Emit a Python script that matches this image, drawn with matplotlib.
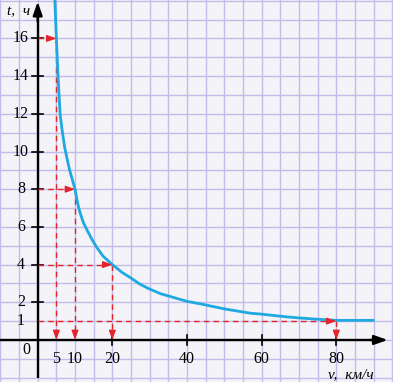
import numpy as np
import matplotlib
matplotlib.use("Agg")
import matplotlib.pyplot as plt

# ---- data ----
v_curve = [4.6, 5.0, 5.5, 6.0, 6.5, 7.2, 8.0, 8.55, 9.3, 10.0, 10.5, 11.0, 11.6, 12.3, 13.3,
           14.5, 15.7, 17.5, 20.0, 22.5, 24.9, 27.5, 30.0, 33.0, 36.5, 40.0, 44.0, 50.0,
           57.0, 60.0, 66.0, 70.0, 75.0, 80.0, 85.0, 90.0]
t_curve = [18.0, 16.0, 13.8, 12.0, 11.2, 10.25, 9.5, 9.02, 8.49, 8.0, 7.45, 7.0, 6.6, 6.2, 5.8,
           5.35, 4.95, 4.45, 4.0, 3.6, 3.3, 2.95, 2.7, 2.45, 2.25, 2.05, 1.9, 1.65,
           1.42, 1.37, 1.24, 1.17, 1.1, 1.04, 1.04, 1.04]

v_marked = [5, 10, 20, 80]
t_marked = [16, 8, 4, 1]

y_ticks = [2, 4, 6, 8, 10, 12, 14, 16]
y_labels = ["1", "2", "4", "6", "8", "10", "12", "14", "16"]
y_label_pos = [1, 2, 4, 6, 8, 10, 12, 14, 16]
x_ticks = [20, 40, 60, 80]
x_labels = ["5", "10", "20", "40", "60", "80"]
x_label_pos = [5, 10, 20, 40, 60, 80]

RED = "#e5232b"
BLUE = "#1ea9e1"
GRID = "#c0bdea"
PAPER = "#f4f3f7"

fig = plt.figure(figsize=(3.93, 3.82), dpi=100)
fig.patch.set_facecolor(PAPER)
ax = fig.add_axes([0, 0, 1, 1])
ax.set_facecolor(PAPER)
ax.set_xlim(-10.1, 95.2)
ax.set_ylim(-2.23, 18.04)
for s in ax.spines.values():
    s.set_visible(False)
ax.set_xticks([])
ax.set_yticks([])

# graph-paper grid
for gx in np.arange(-10, 100, 5):
    ax.axvline(gx, color=GRID, lw=1.0, zorder=0)
for gy in np.arange(-2, 19, 1):
    ax.axhline(gy, color=GRID, lw=1.0, zorder=0)

# axes with arrows
ax.plot([-10.1, 91.0], [0, 0], color="black", lw=1.7, zorder=3, solid_capstyle="butt")
ax.plot([0, 0], [-2.0, 17.3], color="black", lw=1.7, zorder=3, solid_capstyle="butt")
ax.annotate("", xy=(93.8, 0), xytext=(89.0, 0),
            arrowprops=dict(arrowstyle="-|>,head_length=0.8,head_width=0.28",
                            color="black", lw=1.7, shrinkA=0, shrinkB=0), zorder=4)
ax.annotate("", xy=(0, 17.95), xytext=(0, 16.9),
            arrowprops=dict(arrowstyle="-|>,head_length=0.8,head_width=0.28",
                            color="black", lw=1.7, shrinkA=0, shrinkB=0), zorder=4)

# tick marks
for yt in y_ticks:
    ax.plot([-1.5, 1.5], [yt, yt], color="black", lw=1.2, zorder=3)
for xt in x_ticks:
    ax.plot([xt, xt], [-0.28, 0.28], color="black", lw=1.2, zorder=3)

# curve
ax.plot(v_curve, t_curve, color=BLUE, lw=2.0, zorder=5, solid_capstyle="round",
        solid_joinstyle="round")

# red dashed guides with arrows
for vm, tm in zip(v_marked, t_marked):
    ax.plot([0, vm - 1.2], [tm, tm], color=RED, lw=1.0, ls=(0, (4, 3)), zorder=4)
    ax.plot([vm, vm], [tm, 0.3], color=RED, lw=1.0, ls=(0, (4, 3)), zorder=4)
    ax.annotate("", xy=(vm, tm), xytext=(-7, 0), textcoords="offset points",
                arrowprops=dict(arrowstyle="-|>,head_length=0.55,head_width=0.2",
                                color=RED, lw=1.0, shrinkA=0, shrinkB=0), zorder=6)
    ax.annotate("", xy=(vm, 0), xytext=(0, 7), textcoords="offset points",
                arrowprops=dict(arrowstyle="-|>,head_length=0.55,head_width=0.2",
                                color=RED, lw=1.0, shrinkA=0, shrinkB=0), zorder=6)

font = dict(family="Liberation Serif", fontsize=11.5, color="black")
for lab, pos in zip(y_labels, y_label_pos):
    ax.text(-4.5, pos, lab, ha="center", va="center", **font)
for lab, pos in zip(x_labels, x_label_pos):
    ax.text(pos, -1.0, lab, ha="center", va="center", **font)
ax.text(-2.9, -0.55, "0", ha="center", va="center", **font)

ax.text(-8.3, 17.4, "t,  ч", ha="left", va="center", style="italic",
        family="Liberation Serif", fontsize=11)
ax.text(77.8, -1.85, "v,  км/ч", ha="left", va="center", style="italic",
        family="Liberation Serif", fontsize=11)

fig.savefig("out.png", dpi=100, facecolor=PAPER)
